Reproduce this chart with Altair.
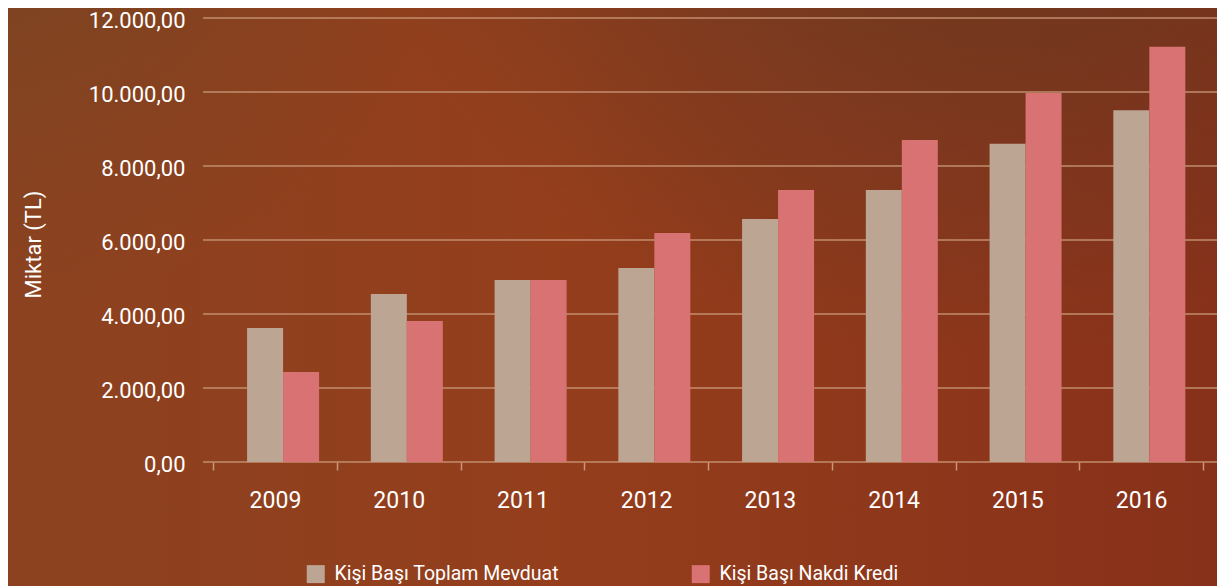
import altair as alt
import pandas as pd

years = ["2009", "2010", "2011", "2012", "2013", "2014", "2015", "2016"]
series = ["Kişi Başı Toplam Mevduat", "Kişi Başı Nakdi Kredi"]
mevduat = [3620, 4540, 4920, 5240, 6570, 7350, 8600, 9510]
kredi = [2430, 3810, 4920, 6190, 7350, 8700, 9970, 11220]
y_ticks = [0, 2000, 4000, 6000, 8000, 10000, 12000]
colors = ["#BDA594", "#D97373"]

rows = []
for i, y in enumerate(years):
    rows.append({"Yıl": y, "Seri": series[0], "Değer": mevduat[i]})
    rows.append({"Yıl": y, "Seri": series[1], "Değer": kredi[i]})
df = pd.DataFrame(rows)
grid_df = pd.DataFrame({"Değer": y_ticks})

W, H = 1014, 444
PL, PT, PR, PB = 195, 10, 0, 126
FONT = "Roboto"

y_scale = alt.Scale(domain=[0, 12000], nice=False, zero=True)
y_axis = alt.Axis(
    values=y_ticks,
    labelExpr="replace(replace(replace(format(datum.value, ',.2f'), ',', '_'), '.', ','), '_', '.')",
    labelFontSize=22, labelFont=FONT, labelColor="#FFFFFF", labelPadding=18, labelOffset=2,
    ticks=False, domain=False, grid=False,
    title="Miktar (TL)", titleFont=FONT, titleFontSize=22, titleFontWeight="normal",
    titleColor="#FFFFFF", titleAngle=270, titleX=-170, titleY=226,
    titleAlign="center", titleBaseline="middle", zindex=1,
)

# background panel (decoration)
bg_base = alt.Chart(pd.DataFrame({"k": [0]})).mark_rect(
    fill=alt.Gradient(
        gradient="linear", x1=0, y1=0, x2=1, y2=0,
        stops=[alt.GradientStop(offset=0, color="#8C4220"),
               alt.GradientStop(offset=0.45, color="#943E1C"),
               alt.GradientStop(offset=1, color="#88311A")],
    )
).encode(x=alt.value(-PL), x2=alt.value(W + PR), y=alt.value(-PT), y2=alt.value(H + PB))

bg_dark = alt.Chart(pd.DataFrame({"k": [0]})).mark_rect(
    fill=alt.Gradient(
        gradient="radial", x1=0.8, y1=0.0, x2=0.8, y2=0.0, r1=0, r2=0.55,
        stops=[alt.GradientStop(offset=0, color="rgba(85,58,36,0.85)"),
               alt.GradientStop(offset=1, color="rgba(85,58,36,0)")],
    )
).encode(x=alt.value(-PL), x2=alt.value(W + PR), y=alt.value(-PT), y2=alt.value(H + PB))

bg_left = alt.Chart(pd.DataFrame({"k": [0]})).mark_rect(
    fill=alt.Gradient(
        gradient="radial", x1=0.0, y1=0.1, x2=0.0, y2=0.1, r1=0, r2=0.4,
        stops=[alt.GradientStop(offset=0, color="rgba(112,68,34,0.75)"),
               alt.GradientStop(offset=1, color="rgba(112,68,34,0)")],
    )
).encode(x=alt.value(-PL), x2=alt.value(W + PR), y=alt.value(-PT), y2=alt.value(H + PB))

grid = alt.Chart(grid_df).mark_rule(color="#C99676", strokeWidth=1.5, opacity=0.9).encode(
    y=alt.Y("Değer:Q", scale=y_scale, axis=y_axis)
)

bars = alt.Chart(df).mark_bar().encode(
    x=alt.X(
        "Yıl:N", sort=years,
        scale=alt.Scale(paddingInner=0, paddingOuter=0.097, align=0.42),
        axis=alt.Axis(
            tickBand="extent", ticks=True, tickSize=8, tickColor="#C99676", tickWidth=1.5,
            domain=False, grid=False, labelAngle=0, labelFont=FONT, labelFontSize=23,
            labelColor="#FFFFFF", labelPadding=19, title=None, zindex=1,
        ),
    ),
    xOffset=alt.XOffset(
        "Seri:N", sort=series,
        scale=alt.Scale(paddingInner=0, paddingOuter=0.719, align=0.657),
    ),
    y=alt.Y("Değer:Q", scale=y_scale, axis=y_axis),
    color=alt.Color(
        "Seri:N",
        scale=alt.Scale(domain=series, range=colors),
        legend=alt.Legend(
            title=None, orient="none", legendX=103, legendY=546, direction="horizontal",
            labelFont=FONT, labelFontSize=19.5, labelColor="#FFFFFF", labelOffset=9,
            symbolType="square", symbolSize=324, symbolStrokeWidth=0, symbolOpacity=1,
            columnPadding=132, padding=0, zindex=1, labelLimit=400,
        ),
    ),
)

chart = alt.layer(bg_base, bg_dark, bg_left, grid, bars).properties(
    width=W, height=H,
    autosize=alt.AutoSizeParams(type="none"),
    padding={"left": PL, "top": PT, "right": PR, "bottom": PB},
    background="#8F3D1C",
).configure_view(stroke=None)

chart.save("out.html", embed_options={"renderer": "svg", "actions": False})
